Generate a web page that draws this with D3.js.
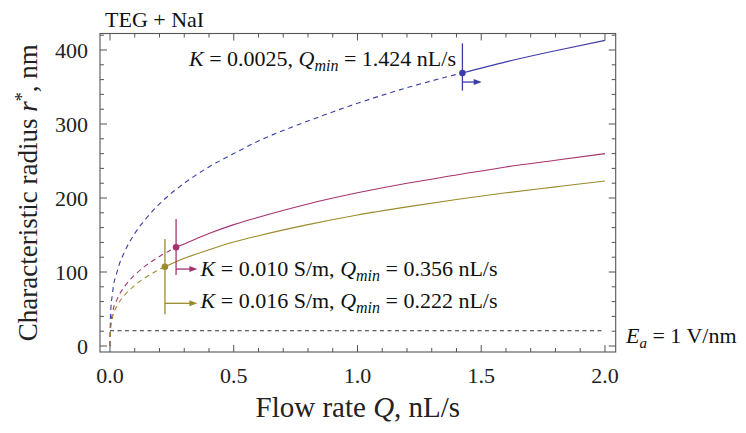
<!DOCTYPE html>
<html>
<head>
<meta charset="utf-8">
<script src="https://cdn.jsdelivr.net/npm/d3@7"></script>
<style>
  html, body { margin: 0; padding: 0; background: #fff; }
  svg { display: block; font-family: "Liberation Serif", "DejaVu Serif", serif; }
</style>
</head>
<body>
<div id="chart"></div>
<script>
// Characteristic radius r* vs flow rate Q, TEG + NaI, three conductivities

const flowQ = [0, 0.002, 0.01, 0.03, 0.06, 0.1, 0.15, 0.2, 0.3, 0.4, 0.5, 0.6, 0.8, 1.0, 1.2, 1.4, 1.6, 1.8, 2.0];
const radiusK0025 = [0, 41, 71, 102, 128, 152, 174, 192, 220, 242, 260, 277, 304, 328, 349, 367, 384, 399, 413];
const radiusK010  = [0, 26, 44.5, 64, 81, 96, 110, 121, 138, 152, 164, 174, 192, 207, 220, 231, 242, 251, 260];
const radiusK016  = [0, 22, 38, 55, 69, 82, 94, 103.5, 118.5, 130, 140.5, 149, 164, 177, 188, 198, 207, 215, 223];

const seriesColors = ["#3d3da8", "#a5336f", "#9c8b2c"];

// Q_min markers (point, vertical bar, arrow)
const markerQ          = [1.424, 0.267, 0.222];
const markerR          = [369, 133.4, 107];
const markerLineTop    = [409, 171.6, 144.6];
const markerLineBottom = [345, 96, 42.8];
const arrowR           = [356.7, 104, 57.7];
const arrowEndQ        = [1.502, 0.353, 0.353];

const labelK    = ["0.0025", "0.010 S/m", "0.016 S/m"];
const labelQmin = ["1.424", "0.356", "0.222"];
const labelQ    = [1.398, 0.366, 0.366];
const labelR    = [378.4, 94.6, 51];
const labelAnchor = ["end", "start", "start"];

const fieldR = 20.7;   // E_a = 1 V/nm
const xTicks = [0, 0.5, 1.0, 1.5, 2.0];
const yTicks = [0, 100, 200, 300, 400];

const W = 746, H = 433;
const m = { top: 33.5, right: 130.3, bottom: 81, left: 100 };
const iw = W - m.left - m.right;
const ih = H - m.top - m.bottom;

const x = d3.scaleLinear().domain([-0.0404, 2.0434]).range([0, iw]);
const y = d3.scaleLinear().domain([-8.1, 422.3]).range([ih, 0]);

const svg = d3.select("#chart").append("svg")
  .attr("width", W).attr("height", H);

const g = svg.append("g").attr("transform", `translate(${m.left},${m.top})`);

const frameColor = "#555";

// Frame
g.append("rect")
  .attr("x", 0).attr("y", 0).attr("width", iw).attr("height", ih)
  .attr("fill", "none").attr("stroke", frameColor).attr("stroke-width", 1.1);

// Ticks on all four sides, pointing inward
const minorX = d3.range(0, 21).map(i => i / 10);
const minorY = d3.range(0, 22).map(i => i * 20);
minorX.forEach(t => {
  const major = Math.abs(t * 2 - Math.round(t * 2)) < 1e-6;
  const len = major ? 7 : 4;
  g.append("line").attr("x1", x(t)).attr("x2", x(t)).attr("y1", ih).attr("y2", ih - len)
    .attr("stroke", frameColor).attr("stroke-width", 1);
  g.append("line").attr("x1", x(t)).attr("x2", x(t)).attr("y1", 0).attr("y2", len)
    .attr("stroke", frameColor).attr("stroke-width", 1);
});
minorY.forEach(t => {
  if (y(t) < 0) return;
  const len = t % 100 === 0 ? 7 : 4;
  g.append("line").attr("x1", 0).attr("x2", len).attr("y1", y(t)).attr("y2", y(t))
    .attr("stroke", frameColor).attr("stroke-width", 1);
  g.append("line").attr("x1", iw).attr("x2", iw - len).attr("y1", y(t)).attr("y2", y(t))
    .attr("stroke", frameColor).attr("stroke-width", 1);
});

// Tick labels
xTicks.forEach(t => {
  g.append("text")
    .attr("x", x(t)).attr("y", ih + 31)
    .attr("text-anchor", "middle")
    .attr("font-size", "22px").attr("fill", "#222")
    .text(t.toFixed(1));
});
yTicks.forEach(t => {
  g.append("text")
    .attr("x", -12).attr("y", y(t) + 7.5)
    .attr("text-anchor", "end")
    .attr("font-size", "22px").attr("fill", "#222")
    .text(t);
});

// E_a reference line
g.append("line")
  .attr("x1", x(0)).attr("x2", x(2))
  .attr("y1", y(fieldR)).attr("y2", y(fieldR))
  .attr("stroke", "#333").attr("stroke-width", 1.1)
  .attr("stroke-dasharray", "4,3.5");

const eaLabel = g.append("text")
  .attr("x", x(2.085)).attr("y", y(fieldR) + 12.5)
  .attr("font-size", "22px").attr("fill", "#111");
eaLabel.append("tspan").attr("font-style", "italic").text("E");
eaLabel.append("tspan").attr("font-style", "italic").attr("font-size", "15px").attr("dy", 5).text("a");
eaLabel.append("tspan").attr("dy", -5).text(" = 1 V/nm");

// Curves
const line = d3.line()
  .x(d => x(d[0]))
  .y(d => y(d[1]))
  .curve(d3.curveMonotoneX);

[radiusK0025, radiusK010, radiusK016].forEach((vals, i) => {
  const pts = flowQ.map((q, j) => [q, vals[j]]);
  const qm = markerQ[i];
  const split = [qm, markerR[i]];
  const dashed = pts.filter(p => p[0] < qm).concat([split]);
  const solid  = [split].concat(pts.filter(p => p[0] > qm));

  g.append("path").datum(dashed)
    .attr("d", line).attr("fill", "none")
    .attr("stroke", seriesColors[i]).attr("stroke-width", 1.1)
    .attr("stroke-dasharray", "5,4");
  g.append("path").datum(solid)
    .attr("d", line).attr("fill", "none")
    .attr("stroke", seriesColors[i]).attr("stroke-width", 1.1);
});

// Q_min markers
markerQ.forEach((q, i) => {
  const c = seriesColors[i];
  g.append("line")
    .attr("x1", x(q)).attr("x2", x(q))
    .attr("y1", y(markerLineTop[i])).attr("y2", y(markerLineBottom[i]))
    .attr("stroke", c).attr("stroke-width", 1.3);

  const ax0 = x(q), ax1 = x(arrowEndQ[i]), ay = y(arrowR[i]);
  g.append("line")
    .attr("x1", ax0).attr("x2", ax1 - 6)
    .attr("y1", ay).attr("y2", ay)
    .attr("stroke", c).attr("stroke-width", 1.3);
  g.append("path")
    .attr("d", `M${ax1},${ay} L${ax1 - 8},${ay - 3} L${ax1 - 8},${ay + 3} Z`)
    .attr("fill", c);

  g.append("circle")
    .attr("cx", x(q)).attr("cy", y(markerR[i]))
    .attr("r", 3.3).attr("fill", c);
});

// Annotation labels
labelK.forEach((k, i) => {
  const t = g.append("text")
    .attr("x", x(labelQ[i])).attr("y", y(labelR[i]))
    .attr("text-anchor", labelAnchor[i])
    .attr("font-size", "22px").attr("fill", "#111");
  t.append("tspan").attr("font-style", "italic").text("K");
  t.append("tspan").text(` = ${k}, `);
  t.append("tspan").attr("font-style", "italic").text("Q");
  t.append("tspan").attr("font-style", "italic").attr("font-size", "16px").attr("dy", 5).text("min");
  t.append("tspan").attr("dy", -5).text(` = ${labelQmin[i]} nL/s`);
});

// Title
svg.append("text")
  .attr("x", 105).attr("y", 27)
  .attr("font-size", "22px").attr("fill", "#111")
  .text("TEG + NaI");

// Axis titles
const xt = svg.append("text")
  .attr("x", m.left + iw / 2).attr("y", 417)
  .attr("text-anchor", "middle")
  .attr("font-size", "29px").attr("fill", "#222");
xt.append("tspan").text("Flow rate ");
xt.append("tspan").attr("font-style", "italic").text("Q");
xt.append("tspan").text(", nL/s");

const yt = svg.append("text")
  .attr("transform", `translate(37,${m.top + ih / 2}) rotate(-90)`)
  .attr("text-anchor", "middle")
  .attr("font-size", "27px").attr("fill", "#222");
yt.append("tspan").text("Characteristic radius ");
yt.append("tspan").attr("font-style", "italic").text("r");
yt.append("tspan").attr("font-size", "18px").attr("dy", -9).text("*");
yt.append("tspan").attr("dy", 9).text(", nm");
</script>
</body>
</html>
